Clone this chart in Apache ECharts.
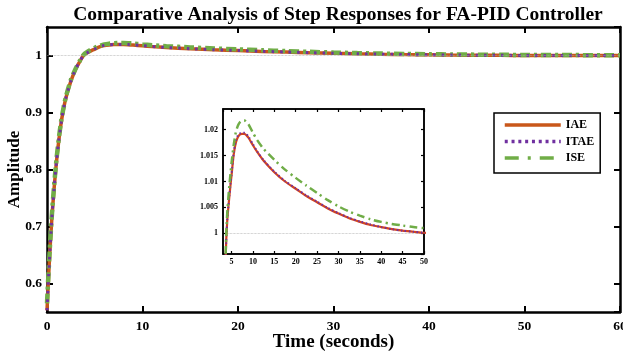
<!DOCTYPE html>
<html>
<head>
<meta charset="utf-8">
<script src="https://cdn.jsdelivr.net/npm/echarts@6/dist/echarts.min.js"></script>
<style>html,body{margin:0;padding:0;background:#fff}#c{width:623px;height:353px}</style>
</head>
<body>
<div id="c"></div>
<script>
var timeS = [0,0.25,0.5,0.75,1,1.25,1.5,1.75,2,2.5,3,3.5,3.75,4,4.25,4.5,4.75,5,5.5,6,6.5,7,7.5,8,8.5,9,10,11,12.5,15,17.5,20,22.5,25,27.5,30,32.5,35,37.5,40,42.5,45,47.5,50,55,60];
var iaeVals = [0.553,0.64,0.712,0.768,0.815,0.853,0.884,0.908,0.927,0.955,0.976,0.9915,0.9985,1.0025,1.0050,1.0072,1.0093,1.0112,1.0152,1.0175,1.0186,1.0191,1.0192,1.0192,1.0189,1.0184,1.0170,1.0157,1.0140,1.0118,1.0100,1.0086,1.0072,1.0060,1.0048,1.0038,1.0029,1.0022,1.0016,1.0012,1.0008,1.0005,1.0003,1.0001,0.9999,0.9998];
var itaeVals = [0.553,0.64,0.712,0.768,0.815,0.853,0.884,0.908,0.927,0.955,0.976,0.9915,0.9985,1.0026,1.0051,1.0074,1.0095,1.0114,1.0155,1.0178,1.0189,1.0193,1.0194,1.0194,1.0191,1.0186,1.0172,1.0158,1.0141,1.0119,1.0101,1.0087,1.0073,1.0061,1.0049,1.0039,1.0030,1.0023,1.0017,1.0012,1.0008,1.0005,1.0003,1.0001,0.9999,0.9998];
var iseVals = [0.565,0.648,0.718,0.773,0.819,0.856,0.887,0.910,0.929,0.957,0.977,0.9925,0.9995,1.0040,1.0068,1.0093,1.0115,1.0136,1.0170,1.0195,1.0208,1.0215,1.0218,1.0218,1.0215,1.0210,1.0194,1.0180,1.0163,1.0142,1.0123,1.0107,1.0092,1.0078,1.0064,1.0052,1.0042,1.0034,1.0027,1.0022,1.0018,1.0015,1.0012,1.0010,1.0007,1.0005];
var seriesNames = ['IAE','ITAE','ISE'];
var refLevel = [1];
var titleText = 'Comparative Analysis of Step Responses for FA-PID Controller';
var xName = 'Time (seconds)';
var yName = 'Amplitude';

function zip(t, v){ return t.map(function(x,i){ return [x, v[i]]; }); }
var F = 'Liberation Serif';
var C_IAE = '#C9571A', C_ITAE = '#7030A0', C_ISE = '#70AD47';

function axisCommon(showLabel, fs, tickLen, tickW, lineW, margin, showMin, showMax){
  return {
    axisLine:{show:true, onZero:false, lineStyle:{color:'#000', width:lineW}},
    axisTick:{show:true, inside:true, length:tickLen, lineStyle:{color:'#000', width:tickW}},
    axisLabel:{show:showLabel, color:'#000', fontFamily:F, fontWeight:'bold', fontSize:fs, margin:margin, showMinLabel:showMin, showMaxLabel:showMax},
    splitLine:{show:false}
  };
}
function mk(o, base){ for (var k in base) if (!(k in o)) o[k]=base[k]; return o; }

var refLine = {silent:true, symbol:['none','none'], label:{show:false}, lineStyle:{color:'#aaa', width:0.7, type:'dotted'}, data: refLevel.map(function(v){return {yAxis:v};})};
var SM = 0.25;

var option = {
  backgroundColor:'#fff',
  animation:false,
  title:{text:titleText, left:333, top:0, textAlign:'center', textStyle:{fontFamily:F, fontWeight:'bold', fontSize:19.5, color:'#000'}},
  legend:{
    data:[
      {name:seriesNames[0], lineStyle:{width:3.5, type:'solid'}},
      {name:seriesNames[1], lineStyle:{width:3.5, type:[3,3.8]}},
      {name:seriesNames[2], lineStyle:{width:3.5, type:[14,9,3,9]}}
    ],
    orient:'vertical', left:494, top:113,
    backgroundColor:'#fff', borderColor:'#000', borderWidth:1.5, padding:[6,6,9,9],
    itemWidth:56, itemHeight:14, itemGap:4.5,
    itemStyle:{opacity:0},
    textStyle:{fontFamily:F, fontWeight:'bold', fontSize:12, color:'#000'}
  },
  grid:[
    {left:47, right:3, top:27, bottom:41, show:false, outerBoundsMode:'none', containLabel:false},
    {left:223, width:201, top:109, height:145, show:true, backgroundColor:'#fff', borderColor:'#000', borderWidth:1.5, z:5, outerBoundsMode:'none', containLabel:false}
  ],
  xAxis:[
    mk({type:'value', gridIndex:0, min:0, max:60, interval:10, position:'bottom', name:xName, nameLocation:'middle', nameGap:21, nameMoveOverlap:false,
        nameTextStyle:{fontFamily:F, fontWeight:'bold', fontSize:19, color:'#000', verticalAlign:'top'}}, axisCommon(true,13.5,6,2,2.5,8,true,true)),
    mk({type:'value', gridIndex:0, min:0, max:60, interval:10, position:'top'}, axisCommon(false,12,6,2,2.5,8,false,false)),
    mk({type:'value', gridIndex:1, min:3, max:50, splitNumber:10, position:'bottom', z:6}, axisCommon(true,8,3,1.2,1.5,4,false,true)),
    mk({type:'value', gridIndex:1, min:3, max:50, splitNumber:10, position:'top', z:6}, axisCommon(false,8,3,1.2,1.5,4,false,false))
  ],
  yAxis:[
    mk({type:'value', gridIndex:0, min:0.55, max:1.05, splitNumber:5, position:'left', name:yName, nameLocation:'middle', nameGap:24, nameMoveOverlap:false,
        nameTextStyle:{fontFamily:F, fontWeight:'bold', fontSize:17, color:'#000'}}, axisCommon(true,13.5,6,2,2.5,5,false,false)),
    mk({type:'value', gridIndex:0, min:0.55, max:1.05, splitNumber:5, position:'right'}, axisCommon(false,12,6,2,2.5,6,false,false)),
    mk({type:'value', gridIndex:1, min:0.996, max:1.024, splitNumber:6, position:'left', z:6}, axisCommon(true,8,3,1.2,1.5,5,false,false)),
    mk({type:'value', gridIndex:1, min:0.996, max:1.024, splitNumber:6, position:'right', z:6}, axisCommon(false,8,3,1.2,1.5,5,false,false))
  ],
  series:[
    {name:'IAE', type:'line', xAxisIndex:0, yAxisIndex:0, data:zip(timeS,iaeVals), symbol:'none', smooth:SM, z:2,
      lineStyle:{color:C_IAE, width:3.5}, itemStyle:{color:C_IAE}, markLine:refLine},
    {name:'ISE', type:'line', xAxisIndex:0, yAxisIndex:0, data:zip(timeS,iseVals), symbol:'none', smooth:SM, z:3,
      lineStyle:{color:C_ISE, width:4.5, type:[10,4,3,4]}, itemStyle:{color:C_ISE}},
    {name:'ITAE', type:'line', xAxisIndex:0, yAxisIndex:0, data:zip(timeS,itaeVals), symbol:'none', smooth:SM, z:4,
      lineStyle:{color:C_ITAE, width:3, type:[2.5,6]}, itemStyle:{color:C_ITAE}},
    {name:'IAE', type:'line', xAxisIndex:2, yAxisIndex:2, data:zip(timeS,iaeVals), symbol:'none', smooth:SM, z:7,
      lineStyle:{color:'#D4461E', width:2.2}, markLine:refLine},
    {name:'ITAE', type:'line', xAxisIndex:2, yAxisIndex:2, data:zip(timeS,itaeVals), symbol:'none', smooth:SM, z:8,
      lineStyle:{color:C_ITAE, width:2, type:[1.5,2.5]}},
    {name:'ISE', type:'line', xAxisIndex:2, yAxisIndex:2, data:zip(timeS,iseVals), symbol:'none', smooth:SM, z:8,
      lineStyle:{color:C_ISE, width:2.5, type:[8,4,2,4]}}
  ]
};
var chart = echarts.init(document.getElementById('c'), null, {renderer:'canvas'});
chart.setOption(option);
</script>
</body>
</html>
